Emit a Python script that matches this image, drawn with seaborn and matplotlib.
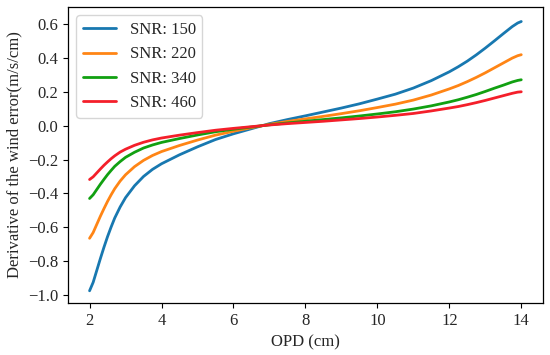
import matplotlib
matplotlib.use("Agg")
import matplotlib.pyplot as plt
import seaborn as sns
import pandas as pd

opd = [2.0, 2.1, 2.2, 2.3, 2.4, 2.5, 2.6, 2.7, 2.85, 3.0, 3.25, 3.5, 3.75, 4.0, 4.5,
       5.0, 5.5, 6.0, 6.5, 7.0, 7.5, 8.0, 8.5, 9.0, 9.5, 10.0, 10.5, 11.0, 11.5,
       12.0, 12.25, 12.5, 12.75, 13.0, 13.25, 13.5, 13.75, 13.9, 14.0]

snr_150 = [-0.975, -0.925, -0.855, -0.785, -0.718, -0.655, -0.598, -0.545, -0.480, -0.425,
           -0.355, -0.300, -0.258, -0.225, -0.172, -0.125, -0.082, -0.048, -0.018, 0.012,
           0.036, 0.058, 0.081, 0.104, 0.129, 0.157, 0.186, 0.222, 0.266,
           0.318, 0.348, 0.381, 0.418, 0.458, 0.500, 0.543, 0.585, 0.606, 0.615]
snr_220 = [-0.665, -0.631, -0.583, -0.535, -0.490, -0.447, -0.408, -0.372, -0.327, -0.290,
           -0.242, -0.205, -0.176, -0.153, -0.117, -0.085, -0.056, -0.033, -0.012, 0.008,
           0.025, 0.040, 0.055, 0.071, 0.088, 0.107, 0.127, 0.151, 0.181,
           0.217, 0.237, 0.260, 0.285, 0.312, 0.341, 0.370, 0.399, 0.413, 0.419]
snr_340 = [-0.430, -0.408, -0.377, -0.346, -0.317, -0.289, -0.264, -0.240, -0.212, -0.187,
           -0.157, -0.132, -0.114, -0.099, -0.076, -0.055, -0.036, -0.021, -0.008, 0.005,
           0.016, 0.026, 0.036, 0.046, 0.057, 0.069, 0.082, 0.098, 0.117,
           0.140, 0.153, 0.168, 0.184, 0.202, 0.221, 0.239, 0.258, 0.267, 0.271]
snr_460 = [-0.318, -0.302, -0.279, -0.256, -0.234, -0.214, -0.195, -0.178, -0.156, -0.139,
           -0.116, -0.098, -0.084, -0.073, -0.056, -0.041, -0.027, -0.016, -0.006, 0.004,
           0.012, 0.019, 0.026, 0.034, 0.042, 0.051, 0.061, 0.072, 0.087,
           0.104, 0.113, 0.124, 0.136, 0.149, 0.163, 0.177, 0.191, 0.198, 0.200]

series_names = ["SNR: 150", "SNR: 220", "SNR: 340", "SNR: 460"]
series_values = [snr_150, snr_220, snr_340, snr_460]
colors = ["#1878b0", "#ff8515", "#11a011", "#f41f2a"]

rows = []
for name, vals in zip(series_names, series_values):
    for x, y in zip(opd, vals):
        rows.append({"OPD": x, "val": y, "SNR": name})
df = pd.DataFrame(rows)

sns.set_style("ticks")
plt.rcParams["font.family"] = ["Liberation Serif", "DejaVu Serif"]
plt.rcParams["mathtext.fontset"] = "stix"

fig = plt.figure(figsize=(5.5, 3.55), dpi=100)
ax = fig.add_axes([0.1236, 0.1465, 0.8634, 0.8335])
sns.lineplot(data=df, x="OPD", y="val", hue="SNR", palette=colors, linewidth=2,
             ax=ax, hue_order=series_names)

ax.set_xticks([2, 4, 6, 8, 10, 12, 14])
ax.set_yticks([-1.0, -0.8, -0.6, -0.4, -0.2, 0.0, 0.2, 0.4, 0.6])
ax.set_xlim(1.4, 14.6)
ax.set_ylim(-1.047, 0.70)
ax.set_xlabel("OPD (cm)", fontsize=12)
ax.set_ylabel("Derivative of the wind error(m/s/cm)", fontsize=12)
ax.tick_params(labelsize=12, length=3.5, width=0.8, color="black")
for s in ax.spines.values():
    s.set_color("black")
    s.set_linewidth(0.9)
leg = ax.legend(loc="upper left", fontsize=12, frameon=True, handlelength=2.0)
leg.get_frame().set_edgecolor("#cccccc")
fig.savefig("out.png", dpi=100)
